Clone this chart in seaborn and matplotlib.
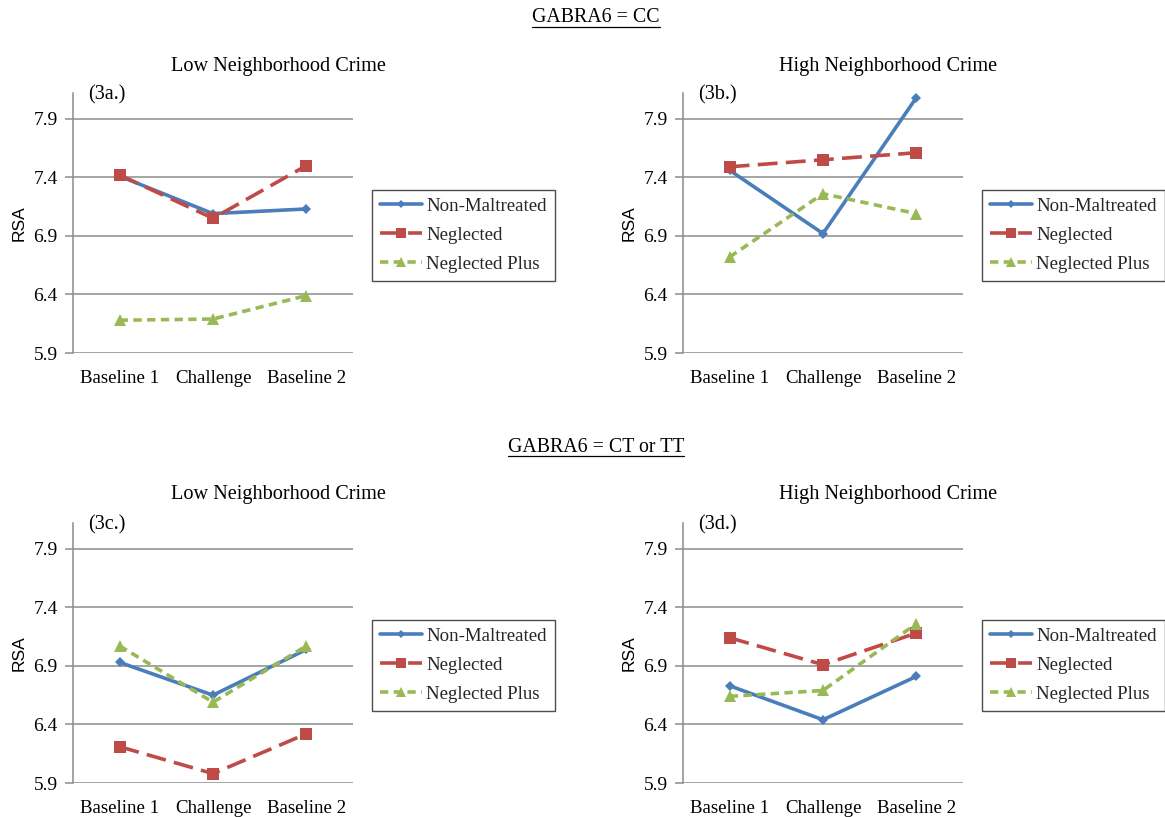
import matplotlib
matplotlib.use("Agg")
import matplotlib.pyplot as plt
from matplotlib.lines import Line2D
import seaborn as sns
import pandas as pd

# Measurement phases on the x axis
phases = ["Baseline 1", "Challenge", "Baseline 2"]
groups = ["Non-Maltreated", "Neglected", "Neglected Plus"]

# RSA means per panel, one list per maltreatment group (Baseline 1, Challenge, Baseline 2)
cc_low_non_maltreated = [7.41, 7.09, 7.13]
cc_low_neglected = [7.42, 7.05, 7.50]
cc_low_neglected_plus = [6.18, 6.19, 6.39]

cc_high_non_maltreated = [7.46, 6.92, 8.08]
cc_high_neglected = [7.49, 7.55, 7.61]
cc_high_neglected_plus = [6.72, 7.26, 7.09]

ct_low_non_maltreated = [6.93, 6.65, 7.04]
ct_low_neglected = [6.21, 5.98, 6.32]
ct_low_neglected_plus = [7.07, 6.59, 7.07]

ct_high_non_maltreated = [6.73, 6.44, 6.81]
ct_high_neglected = [7.14, 6.91, 7.18]
ct_high_neglected_plus = [6.64, 6.69, 7.26]

panel_tags = ["(3a.)", "(3b.)", "(3c.)", "(3d.)"]
crime_titles = ["Low Neighborhood Crime", "High Neighborhood Crime"]
genotype_titles = ["GABRA6 = CC", "GABRA6 = CT or TT"]
y_ticks = [5.9, 6.4, 6.9, 7.4, 7.9]

panels = [
    [cc_low_non_maltreated, cc_low_neglected, cc_low_neglected_plus],
    [cc_high_non_maltreated, cc_high_neglected, cc_high_neglected_plus],
    [ct_low_non_maltreated, ct_low_neglected, ct_low_neglected_plus],
    [ct_high_non_maltreated, ct_high_neglected, ct_high_neglected_plus],
]

palette = {"Non-Maltreated": "#4A7EBB", "Neglected": "#BE4B48", "Neglected Plus": "#98B954"}
markers = {"Non-Maltreated": "D", "Neglected": "s", "Neglected Plus": "^"}
dashes = {"Non-Maltreated": "", "Neglected": (5.5, 2.3), "Neglected Plus": (2.3, 1.5)}
marker_sizes = {"Non-Maltreated": 5.5, "Neglected": 8, "Neglected Plus": 8}
LW = 2.6

sns.set_theme(style="white")
plt.rcParams["font.family"] = ["Liberation Serif", "DejaVu Serif"]

SERIF = "Liberation Serif"
SANS = "Liberation Sans"
GRID = "#8C8C8C"

W, H = 1165, 817
fig = plt.figure(figsize=(W / 100, H / 100), dpi=100)

# axes boxes in pixels: left, top, right, bottom
boxes = [(73, 93, 353, 353), (683, 93, 963, 353), (73, 523, 353, 783), (683, 523, 963, 783)]

for i, (vals, (l, t, r, b)) in enumerate(zip(panels, boxes)):
    ax = fig.add_axes([l / W, 1 - b / H, (r - l) / W, (b - t) / H])
    rows = []
    for g, series in zip(groups, vals):
        for p, v in zip(phases, series):
            rows.append({"Phase": p, "RSA": v, "Group": g})
    df = pd.DataFrame(rows)
    for g in groups:
        sub = df[df["Group"] == g]
        sns.lineplot(data=sub, x="Phase", y="RSA", ax=ax, color=palette[g],
                     marker=markers[g], markersize=marker_sizes[g],
                     markeredgewidth=0, linewidth=LW, sort=False,
                     linestyle="-" if not dashes[g] else (0, dashes[g]),
                     label=g, legend=False)
    ax.set_xlim(-0.5, 2.5)
    ax.set_ylim(5.9, 8.12)
    ax.set_yticks(y_ticks)
    ax.set_yticklabels([f"{v:.1f}" for v in y_ticks])
    ax.yaxis.grid(True, color=GRID, linewidth=1.1)
    ax.set_axisbelow(True)
    for side in ["top", "right", "bottom"]:
        ax.spines[side].set_visible(False)
    ax.spines["left"].set_color(GRID)
    ax.spines["left"].set_linewidth(1.1)
    ax.tick_params(axis="y", which="both", left=True, length=6, width=1.1,
                   color=GRID, pad=5, labelsize=14)
    ax.tick_params(axis="x", length=0, pad=12, labelsize=13.6)
    for lab in ax.get_xticklabels() + ax.get_yticklabels():
        lab.set_fontfamily(SERIF)
        lab.set_color("black")
    ax.set_xlabel("")
    ax.set_ylabel("RSA", fontfamily=SANS, fontsize=12.5, color="black", labelpad=5)
    ax.text(0.055, 1.03, panel_tags[i], transform=ax.transAxes, va="top", ha="left",
            fontsize=14.5, fontfamily=SERIF, color="black")

    handles = []
    for g in groups:
        ls = "-" if not dashes[g] else (0, dashes[g])
        handles.append(Line2D([], [], color=palette[g], marker=markers[g],
                              markersize=marker_sizes[g] - 1, markeredgewidth=0,
                              linewidth=LW, linestyle=ls))
    leg = ax.legend(handles, groups, loc="upper left", bbox_to_anchor=(1.068, 0.628),
                    borderaxespad=0, frameon=True, fancybox=False, handlelength=2.2,
                    handletextpad=0.25, labelspacing=0.62, borderpad=0.42,
                    prop={"family": SERIF, "size": 13.6})
    leg.get_frame().set_edgecolor("#222222")
    leg.get_frame().set_linewidth(1.0)

# crime-level titles above each panel
for row, ytop in enumerate([67, 495]):
    for col, xc in enumerate([278, 888]):
        fig.text(xc / W, 1 - ytop / H, crime_titles[col], ha="center", va="center",
                 fontsize=14.6, fontfamily=SERIF, color="black")

# underlined genotype headings
heads = []
for title, yc in zip(genotype_titles, [18, 448]):
    heads.append(fig.text(596 / W, 1 - yc / H, title, ha="center", va="center",
                          fontsize=14.3, fontfamily=SERIF, color="black"))
fig.canvas.draw()
renderer = fig.canvas.get_renderer()
for txt in heads:
    bb = txt.get_window_extent(renderer)
    y = (bb.y0 + 1) / H
    fig.add_artist(Line2D([bb.x0 / W, bb.x1 / W], [y, y], color="black",
                          linewidth=0.9, transform=fig.transFigure))

fig.savefig("out.png", dpi=100, facecolor="white")
